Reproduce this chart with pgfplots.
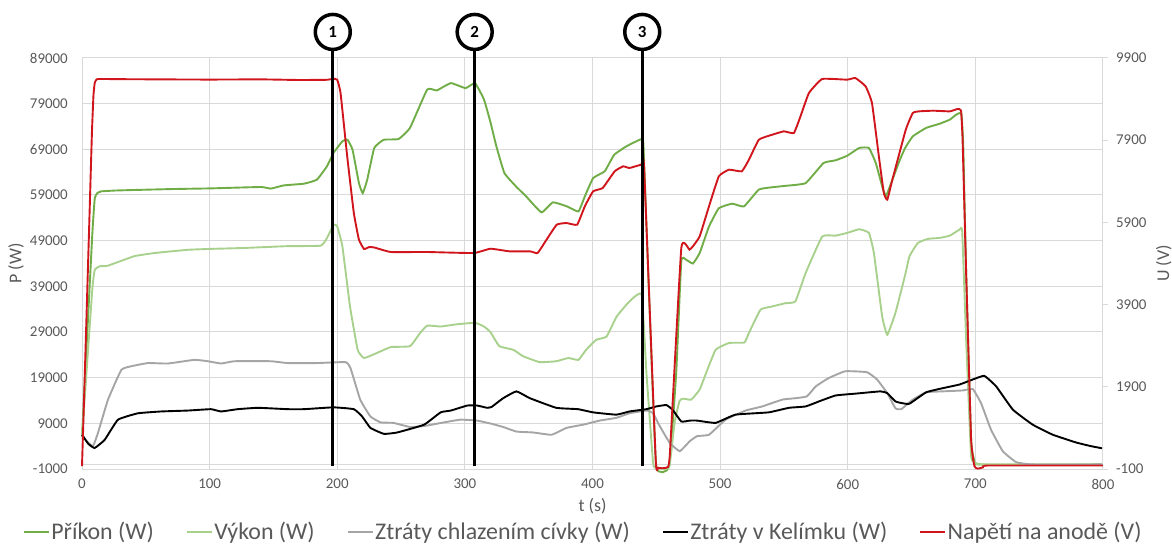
\documentclass[border=0pt]{standalone}
\usepackage{fontspec}
\setmainfont{Carlito}
\usepackage{pgfplots}
\pgfplotsset{compat=1.18}

\definecolor{prikon}{HTML}{70AD47}
\definecolor{vykon}{HTML}{A9D18E}
\definecolor{chlaz}{HTML}{A5A5A5}
\definecolor{kelim}{HTML}{000000}
\definecolor{napeti}{HTML}{D0161C}
\definecolor{gridc}{HTML}{D9D9D9}
\definecolor{txt}{HTML}{595959}

\pgfplotsset{
  base/.style={
    scale only axis, width=1021bp, height=411bp,
    at={(82bp,77bp)}, anchor=south west,
    xmin=0, xmax=800, clip=false,
    scaled y ticks=false, scaled x ticks=false,
    /pgf/number format/assume math mode=true,
    /pgf/number format/1000 sep={},
    ticklabel style={font=\fontsize{15}{18}\selectfont, text=txt},
    label style={font=\fontsize{18}{22}\selectfont, text=txt},
  },
  serie/.style={line width=1.9bp, smooth, tension=0.22, no markers},
}

\begin{document}
\begin{tikzpicture}
\path[use as bounding box] (0,0) rectangle (1172bp,546bp);

% primary axis: powers in W
\begin{axis}[base,
  ymin=-1000, ymax=89000,
  ytick={-1000,9000,...,89000},
  xtick={0,100,...,800},
  grid=major, major grid style={gridc, line width=1bp},
  axis line style={draw=none}, tick style={draw=none},
  yticklabel style={anchor=east, inner sep=0pt, xshift=-14bp},
  xticklabel style={anchor=north, inner sep=0pt, yshift=-10bp},
  xlabel={t (s)}, ylabel={P (W)},
  xlabel style={at={(axis description cs:0.5,-0.09)}, anchor=center},
  ylabel style={at={(axis description cs:-0.0646,0.5)}, anchor=center},
]
\draw[gridc, line width=1bp] (axis cs:0,0) -- (axis cs:800,0);

% Prikon (W)
\addplot[serie, prikon] coordinates {
(0,6000) (8,50000) (10,58300) (12,59400) (15,59800) (28,60000) (70,60300)
(101,60450) (140,60750) (148,60400) (158,61100) (174,61480) (184,62350)
(192,65300) (197,68200) (204,70750) (208,71100) (212,68900) (217,61600)
(220,59400) (223.5,62350) (229,69300) (236.5,71100) (248,71250) (257,73700)
(270.5,82100) (278,81900) (289,83500) (300.5,82400) (308,83500) (315,79900)
(320,75000) (324.7,69650) (331,63800) (340,60900) (348,58700) (360,55200)
(369,57400) (380,56500) (389,55400) (394,58700) (400.5,62700) (409.6,64200)
(417,67800) (426.5,69650) (438.5,71250) (440,69500) (445,32000) (450,-500)
(460,-500) (465.6,20000) (469.6,44500) (473.5,44800) (478.7,44000) (484,46300)
(491.3,52100) (499,56100) (509.5,57100) (518.7,56500) (530.4,60200) (541,60700)
(551,61000) (567,61600) (581,66000) (590.5,66600) (599.6,67600) (609,69300)
(616.6,69300) (622,66000) (627,60900) (630,58800) (635,62350) (641,66800)
(645,69300) (651,71850) (661.5,73700) (672,74600) (680,75500) (685,76600)
(689,76800) (690.5,70000) (692.8,41900) (696.7,5400) (699.3,700) (703,0)
(800,0)
};

% Vykon (W)
\addplot[serie, vykon] coordinates {
(0,6000) (8,38000) (10,42600) (14,43400) (20,43500) (41,45600) (57,46300)
(83,47000) (101,47200) (127,47400) (161,47800) (187,47900) (192,49600)
(197.3,52500) (200,52100) (204,47800) (210,34600) (216,25100) (221,23300)
(231,24400) (242,25700) (257,25900) (265,28800) (270.5,30400) (281,30200)
(294,30700) (308,31000) (315,30200) (320,29000) (327,25900) (338,25100)
(345.6,23700) (358.6,22400) (371.6,22600) (381,23300) (389,22900) (395,25100)
(403,27300) (411,28000) (419,32400) (429,35700) (438.5,37200) (442.3,20000)
(447.5,300) (450,-700) (460,-700) (464.3,9100) (468.2,13900) (471,14400)
(477.4,14200) (484,16400) (489,20000) (496.5,25100) (507,26600) (519,26700)
(522.6,28800) (531.7,33900) (541,34600) (551,35300) (559,35700) (567,41900)
(580,49900) (590.5,50100) (599.6,50700) (609,51500) (616.6,50700) (620.5,46300)
(627,32400) (631,28400) (637.4,33200) (645,41500) (648.4,45600) (655,48500)
(663,49400) (672,49600) (680,50100) (687.6,51400) (689.7,51000) (692.8,27300)
(696.7,1800) (700.7,300) (705,0) (800,0)
};

% Ztraty chlazenim civky (W)
\addplot[serie, chlaz] coordinates {
(0,6500) (4,5000) (8.6,4000) (12.5,6900) (20.4,14200) (30.8,20700) (38.6,21500)
(51.7,22200) (67.3,22100) (88,22900) (98.6,22600) (109,22100) (119.5,22600)
(148,22600) (161,22200) (184,22200) (206.5,22400) (210.4,21100) (218,14200)
(226,10500) (234,9200) (244,9100) (257,8200) (268,8400) (283.5,9200)
(296.5,9800) (309.6,9600) (321,8900) (330,8200) (340.4,7200) (353.5,7000)
(368,6500) (379.6,8000) (392.6,8700) (405.6,9600) (418.7,10200) (429,11200)
(442.3,11800) (447.5,11200) (452.7,8400) (460.6,4700) (468.4,2900) (476.3,5100)
(482,6200) (491.3,6500) (504.3,9800) (520,11800) (533,12700) (548.8,14200)
(559,14500) (568,14900) (575,17100) (585,18900) (598,20400) (615,20200)
(623,18600) (631,15600) (637.4,12300) (642,12100) (651,14200) (661.5,15800)
(674.5,16000) (690,16200) (698,16500) (704.5,13400) (712.3,7600) (721.5,2900)
(732,500) (745,0) (800,0)
};

% Ztraty v Kelimku (W)
\addplot[serie, kelim] coordinates {
(0,6500) (5,4500) (9.9,3600) (17.8,5400) (28.2,9800) (43.9,11200) (62,11600)
(83,11800) (101,12100) (109,11600) (122,12100) (138,12400) (161,12100)
(174,12100) (197,12500) (213,12100) (219.5,10500) (226,8000) (236.5,6700)
(247,7000) (268,8700) (281,11400) (289,11800) (302,12900) (309.6,12900)
(317.4,12400) (321,12600) (330,14500) (340.4,16000) (351,14500) (371.6,12400)
(388.7,12100) (400.5,11400) (418.7,10900) (429,11600) (442.3,12100) (450,12700)
(458,13000) (463,11900) (469.6,9400) (476.3,9600) (482,9600) (496.5,9100)
(512,10900) (538,11400) (554,12400) (567,12700) (577.5,13800) (590.5,15100)
(606,15500) (625.7,16000) (631,15600) (637.4,13800) (643,13400) (648.4,13300)
(661.5,15800) (674.5,16700) (687.6,17500) (698,18600) (707,19400) (716.3,17100)
(729.4,12000) (745,8700) (760.7,6500) (779,4800) (790.7,4000) (800,3500)
};
\end{axis}

% secondary axis: anode voltage in V
\begin{axis}[base,
  ymin=-100, ymax=9900,
  ytick={-100,1900,...,9900},
  axis y line*=right, axis x line=none,
  y axis line style={gridc, line width=1bp},
  ytick style={gridc, line width=1bp},
  tick align=outside, major tick length=5bp,
  yticklabel style={anchor=west, inner sep=0pt, xshift=8bp},
  ylabel={U (V)},
  ylabel style={at={(axis description cs:1.0597,0.5)}, anchor=center},
  legend columns=5,
  legend style={at={(axis description cs:0.490,-0.153)}, anchor=center,
    draw=none, fill=none, font=\fontsize{24}{28}\selectfont, text=txt,
    nodes={inner sep=0pt},
    /tikz/every odd column/.append style={column sep=1bp},
    /tikz/every even column/.append style={column sep=32bp}},
  legend image code/.code={\draw[#1, line width=2.4bp] (0bp,0bp) -- (25bp,0bp);},
]
\addlegendimage{prikon}
\addlegendentry{Příkon (W)}
\addlegendimage{vykon}
\addlegendentry{Výkon (W)}
\addlegendimage{chlaz}
\addlegendentry{Ztráty chlazením cívky (W)}
\addlegendimage{kelim}
\addlegendentry{Ztráty v Kelímku (W)}

% Napeti na anode (V)
\addplot[serie, napeti] coordinates {
(0,-30) (2,2000) (4,4100) (6,6200) (7.8,8100) (9,9000) (10,9300) (11.5,9380)
(14,9390) (30,9385) (60,9380) (100,9375)
(140,9380) (170,9365) (192,9370) (197,9395) (200,9370) (202.6,9048)
(207.8,7507) (213,6129) (217,5480) (221,5253) (225,5300) (229,5290) (242,5180)
(270,5180) (307,5155) (320,5260) (335,5196) (351,5196) (357,5155) (364,5480)
(372,5845) (379.6,5885) (388,5845) (394,6291) (400.5,6656) (408,6737)
(417.4,7143) (424,7264) (429,7224) (438.3,7305) (440.4,7264) (449.5,150)
(451.5,-70) (457.8,-70) (460.5,200) (469.6,5277) (476,5237) (478.7,5318)
(484,5561) (491.3,6291) (499,7021) (507,7183) (517,7143) (522.6,7426)
(530.4,7913) (541,8035) (550,8116) (557.8,8075) (563,8481) (569.6,9048)
(580,9389) (599.6,9373) (606,9413) (614,9211) (619,8805) (624.4,7507)
(628.3,6615) (631,6453) (635,6940) (645.5,8157) (651,8562) (656,8602)
(667,8618) (680,8602) (686,8659) (688.8,8620) (690,7913) (692.8,4669)
(696.7,614) (699.3,-35) (702,-90) (706,-60) (710,-15) (800,-15)
};
\addlegendentry{Napětí na anodě (V)}

% event markers 1-3
\draw[black, line width=3bp] (axis cs:196.5,-30) -- (axis cs:196.5,10534);
\draw[black, line width=3bp] (axis cs:307.7,-30) -- (axis cs:307.7,10534);
\draw[black, line width=3bp] (axis cs:439,-30) -- (axis cs:439,10534);
\node[draw=black, circle, line width=3.5bp, minimum size=35bp, inner sep=0pt,
      fill=white, font=\bfseries\fontsize{17}{20}\selectfont]
      at (axis cs:196.5,10534) {1};
\node[draw=black, circle, line width=3.5bp, minimum size=35bp, inner sep=0pt,
      fill=white, font=\bfseries\fontsize{17}{20}\selectfont]
      at (axis cs:307.7,10534) {2};
\node[draw=black, circle, line width=3.5bp, minimum size=35bp, inner sep=0pt,
      fill=white, font=\bfseries\fontsize{17}{20}\selectfont]
      at (axis cs:439,10534) {3};
\end{axis}
\end{tikzpicture}
\end{document}
